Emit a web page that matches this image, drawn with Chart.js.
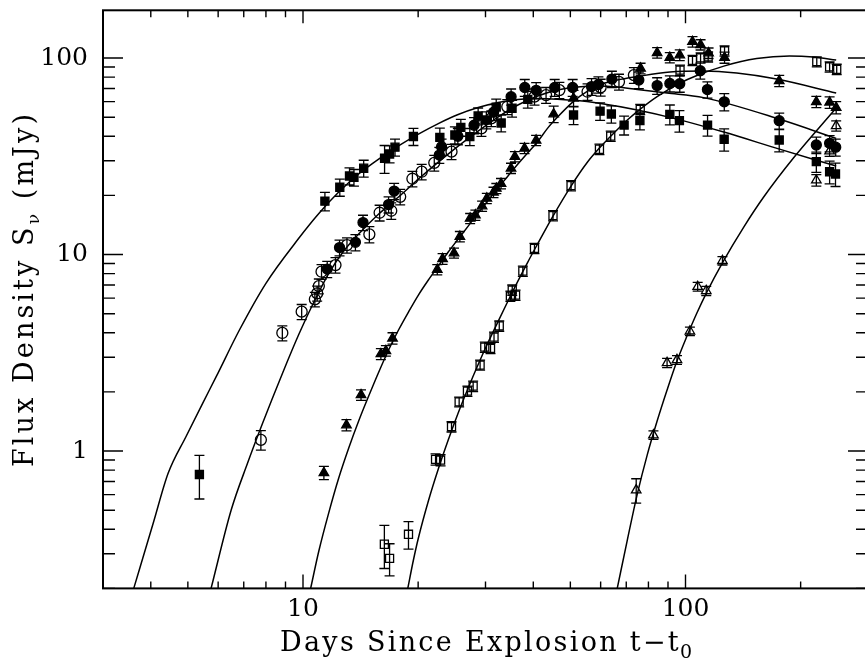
<!DOCTYPE html>
<html>
<head>
<meta charset="utf-8">
<script src="https://cdn.jsdelivr.net/npm/chart.js@4"></script>
<style>
html,body{margin:0;padding:0;background:#fff;overflow:hidden}
#wrap{width:875px;height:662px;background:#fff}
</style>
</head>
<body>
<div id="wrap"><canvas id="c" width="875" height="662"></canvas></div>
<script>
// ---------- data (days since explosion, flux density mJy, 1-sigma error mJy) ----------
const sqDays = [5.36, 11.41, 12.48, 13.23, 13.59, 14.41, 16.34, 16.84, 17.4, 19.44, 22.79, 24.95, 25.86, 27.3, 28.7, 30.15, 32.0, 32.97, 35.2, 38.7, 50.97, 59.8, 64.0, 69.1, 76.0, 91.0, 96.4, 114.2, 126.2, 175.8, 219.8, 238.1, 246.7];
const sqFlux = [0.76, 18.7, 22.0, 25.1, 24.7, 27.5, 30.9, 32.5, 35.2, 39.9, 39.5, 40.6, 44.4, 39.8, 50.7, 48.4, 56.3, 46.7, 55.5, 61.6, 51.3, 53.7, 51.9, 45.6, 48.1, 51.7, 48.0, 45.6, 38.6, 38.3, 29.7, 26.4, 25.7];
const sqErr  = [0.19, 2.0, 2.2, 2.5, 2.4, 2.7, 5.0, 3.2, 3.5, 4.0, 4.5, 4.0, 4.4, 4.0, 5.0, 4.8, 5.5, 4.6, 5.5, 6.0, 5.5, 5.5, 5.2, 5.0, 5.0, 6.0, 6.0, 5.5, 5.0, 5.0, 3.5, 3.5, 3.5];

const fcDays = [11.57, 12.46, 13.71, 14.35, 16.74, 17.31, 22.72, 23.03, 25.4, 28.0, 31.5, 35.0, 38.0, 40.7, 45.5, 50.7, 56.8, 59.2, 64.2, 75.5, 84.3, 91.0, 96.6, 109.3, 114.1, 126.3, 175.8, 219.8, 238.1, 247.0];
const fcFlux = [8.44, 10.85, 11.54, 14.55, 17.97, 21.05, 32.1, 35.4, 40.0, 45.5, 53.0, 63.6, 70.8, 68.5, 70.8, 70.8, 71.6, 73.3, 78.2, 77.3, 72.4, 74.2, 74.0, 86.2, 69.1, 59.9, 48.0, 36.1, 36.8, 35.2];
const fcErr  = [0.8, 1.0, 1.1, 1.3, 1.7, 2.0, 3.0, 3.3, 3.8, 4.3, 5.0, 6.0, 7.0, 6.5, 7.0, 7.0, 7.0, 7.0, 7.5, 7.5, 7.0, 7.0, 7.0, 8.0, 6.5, 6.0, 4.5, 3.5, 3.5, 3.5];

const ocDays = [7.76, 8.83, 9.92, 10.74, 10.89, 11.0, 11.18, 12.16, 13.03, 14.91, 15.86, 17.01, 17.95, 19.32, 20.43, 22.04, 24.45, 29.27, 31.07, 34.2, 40.3, 43.2, 46.8, 55.45, 60.0, 67.0, 73.3];
const ocFlux = [1.14, 3.99, 5.12, 5.92, 6.35, 6.91, 8.18, 8.84, 11.17, 12.67, 16.32, 16.71, 19.68, 24.31, 26.4, 29.3, 33.4, 43.9, 49.3, 56.5, 63.6, 64.8, 68.7, 67.4, 71.0, 75.7, 81.9];
const ocErr  = [0.13, 0.35, 0.45, 0.5, 0.55, 0.6, 0.7, 0.8, 1.0, 1.2, 1.5, 1.6, 1.8, 2.2, 2.4, 2.7, 3.0, 4.0, 4.5, 5.0, 6.0, 6.0, 6.5, 6.5, 7.0, 7.0, 7.5];

const ftDays = [11.34, 12.99, 14.18, 15.98, 16.47, 17.14, 22.44, 23.17, 24.82, 25.71, 27.35, 28.23, 29.39, 30.24, 31.48, 32.02, 32.94, 34.98, 35.81, 37.95, 40.68, 45.22, 50.97, 76.3, 84.3, 90.98, 96.6, 104.3, 109.5, 114.9, 126.5, 175.8, 219.8, 238.1, 247.7];
const ftFlux = [0.775, 1.356, 1.93, 3.12, 3.24, 3.75, 8.39, 9.51, 10.18, 12.35, 15.28, 15.89, 17.65, 19.32, 20.75, 21.7, 22.98, 27.5, 31.5, 34.7, 38.1, 51.9, 62.4, 88.6, 106.4, 100.6, 103.6, 121.1, 116.9, 106.0, 100.6, 76.6, 59.9, 59.5, 56.0];
const ftErr  = [0.06, 0.09, 0.12, 0.2, 0.2, 0.25, 0.5, 0.6, 0.6, 0.75, 0.9, 0.95, 1.05, 1.15, 1.25, 1.3, 1.4, 1.65, 1.9, 2.1, 2.3, 5.0, 6.0, 5.5, 6.5, 6.0, 6.5, 7.5, 7.0, 6.5, 6.5, 5.0, 4.0, 4.0, 4.0];

const osDays = [16.32, 16.84, 18.87, 22.21, 22.89, 24.45, 25.60, 26.91, 27.85, 29.04, 29.87, 30.92, 31.58, 32.59, 34.85, 35.24, 35.95, 37.56, 40.29, 45.04, 50.21, 59.57, 63.75, 76.15, 96.76, 104.3, 109.5, 114.6, 126.5, 220.4, 238.1, 248.5];
const osFlux = [0.3355, 0.2844, 0.3772, 0.9074, 0.90, 1.33, 1.78, 2.02, 2.14, 2.74, 3.38, 3.33, 3.80, 4.33, 6.15, 6.60, 6.22, 8.24, 10.76, 15.79, 22.44, 34.35, 40.09, 54.8, 86.9, 97.3, 100.3, 101.5, 108.9, 95.8, 90.3, 87.7];
const osErr  = [0.083, 0.053, 0.06, 0.06, 0.06, 0.08, 0.1, 0.12, 0.13, 0.16, 0.2, 0.2, 0.23, 0.26, 0.37, 0.4, 0.37, 0.5, 0.65, 0.95, 1.35, 2.1, 2.4, 3.3, 5.2, 5.8, 6.0, 6.0, 6.5, 5.7, 5.4, 5.3];

const otDays = [74.32, 82.45, 89.5, 95.0, 102.7, 107.6, 113.3, 124.9, 219.8, 238.1, 247.7];
const otFlux = [0.633, 1.206, 2.81, 2.91, 4.07, 6.86, 6.54, 9.30, 23.9, 33.6, 45.2];
const otErr  = [0.09, 0.06, 0.15, 0.15, 0.2, 0.35, 0.35, 0.45, 1.6, 2.0, 2.7];

// model curves
const c1Days = [3.61, 4.06, 4.44, 4.95, 5.47, 5.93, 6.82, 8.0, 9.76, 11.0, 12.4, 13.98, 15.77, 17.77, 20.03, 22.58, 25.45, 28.7, 32.35, 36.46, 41.1, 46.3, 52.2, 58.9, 74.8, 95.0, 125.9, 176.1, 247.7];
const c1Flux = [0.2, 0.430, 0.77, 1.19, 1.755, 2.39, 4.13, 7.14, 12.13, 16.17, 20.8, 25.7, 30.6, 35.7, 41.0, 46.4, 51.6, 56.0, 59.4, 61.5, 62.2, 61.8, 60.8, 59.0, 54.4, 48.9, 42.0, 34.4, 28.2];
const c2Days = [5.75, 6.49, 7.16, 7.84, 8.84, 9.76, 10.74, 11.69, 12.78, 13.98, 15.77, 17.77, 20.03, 22.58, 25.45, 28.7, 32.35, 36.46, 41.1, 46.3, 52.2, 58.9, 66.3, 74.8, 89.5, 111.5, 176.4, 247.7];
const c2Flux = [0.2, 0.501, 0.866, 1.384, 2.49, 3.94, 5.87, 8.05, 10.42, 12.72, 16.07, 19.62, 24.23, 29.56, 35.66, 42.5, 50.1, 57.7, 64.1, 68.7, 71.2, 72.0, 71.2, 69.1, 66.4, 62.9, 48.8, 39.0];
const c3Days = [10.47, 11.0, 11.69, 12.4, 13.17, 13.98, 14.85, 15.77, 16.74, 17.77, 18.87, 20.03, 21.27, 22.58, 23.97, 25.45, 27.03, 28.7, 30.46, 32.35, 34.35, 36.46, 38.7, 41.1, 43.62, 46.3, 50.7, 55.45, 60.6, 66.3, 74.8, 91.1, 111.5, 136.1, 173, 247.7];
const c3Flux = [0.2, 0.310, 0.489, 0.729, 1.036, 1.421, 1.905, 2.52, 3.27, 4.13, 5.10, 6.22, 7.42, 8.74, 10.30, 11.99, 13.96, 16.26, 18.83, 21.8, 25.1, 28.9, 33.0, 37.6, 44.0, 50.1, 59.7, 67.9, 73.8, 77.3, 80.5, 84.9, 85.9, 83.9, 78.2, 66.4];
const c4Days = [18.79, 19.44, 20.03, 21.27, 22.58, 23.97, 25.45, 27.03, 28.7, 30.46, 32.35, 34.35, 36.46, 38.7, 41.1, 44.96, 50.21, 55.45, 59.57, 63.65, 70.45, 76.15, 84.3, 96.76, 107.1, 125.9, 153.5, 187.0, 215.9, 247.7];
const c4Flux = [0.2, 0.279, 0.361, 0.557, 0.810, 1.137, 1.561, 2.092, 2.755, 3.566, 4.56, 5.80, 7.33, 9.16, 11.37, 15.61, 22.32, 29.56, 34.83, 39.86, 48.36, 55.0, 63.7, 74.6, 81.5, 91.0, 99.4, 102.4, 101.2, 97.7];
const c5Days = [66.3, 70.45, 74.8, 79.4, 84.3, 89.5, 95.0, 100.9, 107.1, 113.7, 125.2, 142.0, 160.1, 191.5, 247.7];
const c5Flux = [0.2, 0.3524, 0.604, 0.954, 1.421, 2.044, 2.871, 3.848, 5.04, 6.445, 9.16, 13.8, 19.62, 30.98, 55.7];

// axes
const xMin = 3, xMax = 300, yMin = 0.2, yMax = 175;
const xTickLabels = [10, 100];
const yTickLabels = [1, 10, 100];
const xTitleMain = 'Days Since Explosion t\u2212t', xTitleSub = '0';
const yTitleMain = 'Flux Density S', yTitleSub = '\u03BD', yTitleTail = ' (mJy)';

const FONT = '"DejaVu Serif", "Liberation Serif", serif';

function pts(d, f) { return d.map((v, i) => ({x: v, y: f[i]})); }

function curve(d, f) {
  return {data: pts(d, f), showLine: true, pointRadius: 0, borderColor: '#000', borderWidth: 1.5,
          cubicInterpolationMode: 'monotone', fill: false, order: 2};
}
function marks(d, f, e, style, filled, r) {
  return {data: pts(d, f), errors: e, showLine: false, pointStyle: style, pointRadius: r,
          pointBackgroundColor: filled ? '#000' : 'rgba(0,0,0,0)', pointBorderColor: '#000',
          pointBorderWidth: 1.3, order: 1};
}

const errorBars = {
  id: 'errorBars',
  afterDatasetsDraw(chart) {
    const {ctx, scales: {x, y}} = chart;
    ctx.save();
    ctx.strokeStyle = '#000';
    ctx.lineWidth = 1.3;
    ctx.beginPath();
    chart.data.datasets.forEach(ds => {
      if (!ds.errors) return;
      ds.data.forEach((p, i) => {
        const e = ds.errors[i];
        const px = x.getPixelForValue(p.x);
        const y1 = y.getPixelForValue(p.y + e);
        const y2 = y.getPixelForValue(Math.max(p.y - e, yMin * 0.5));
        ctx.moveTo(px, y1); ctx.lineTo(px, y2);
        ctx.moveTo(px - 5, y1); ctx.lineTo(px + 5, y1);
        ctx.moveTo(px - 5, y2); ctx.lineTo(px + 5, y2);
      });
    });
    ctx.stroke();
    ctx.restore();
  }
};

function isDecade(v) { const l = Math.log10(v); return Math.abs(l - Math.round(l)) < 1e-6; }
function isLogTick(v) {
  const m = v / Math.pow(10, Math.floor(Math.log10(v) + 1e-9));
  return Math.abs(m - Math.round(m)) < 1e-6;
}

const frame = {
  id: 'frame',
  afterDraw(chart) {
    const {ctx, chartArea: a, scales: {x, y}} = chart;
    ctx.save();
    ctx.strokeStyle = '#000';
    ctx.lineWidth = 1.4;
    ctx.beginPath();
    x.ticks.forEach(t => {
      const v = t.value;
      if (!isLogTick(v)) return;
      const px = x.getPixelForValue(v);
      const maj = isDecade(v);
      ctx.moveTo(px, a.bottom); ctx.lineTo(px, a.bottom - (maj ? 14 : 7));
      ctx.moveTo(px, a.top); ctx.lineTo(px, a.top + (maj ? 13 : 7));
    });
    y.ticks.forEach(t => {
      const v = t.value;
      if (!isLogTick(v)) return;
      const py = y.getPixelForValue(v);
      const maj = isDecade(v);
      ctx.moveTo(a.left, py); ctx.lineTo(a.left + (maj ? 20 : 12), py);
      ctx.moveTo(a.right, py); ctx.lineTo(a.right - (maj ? 20 : 12), py);
    });
    ctx.stroke();
    ctx.lineWidth = 2;
    ctx.strokeRect(a.left, a.top, a.right - a.left, a.bottom - a.top);
    ctx.restore();
  }
};

const titles = {
  id: 'titles',
  afterDraw(chart) {
    const ctx = chart.ctx;
    ctx.save();
    ctx.fillStyle = '#000';
    ctx.textAlign = 'left';
    ctx.textBaseline = 'alphabetic';
    ctx.letterSpacing = '2.3px';
    ctx.font = '27px ' + FONT;
    const w = ctx.measureText(xTitleMain).width;
    ctx.fillText(xTitleMain, 280, 651);
    ctx.font = '19px ' + FONT;
    ctx.fillText(xTitleSub, 280 + w - 1, 658);

    ctx.translate(33, 467);
    ctx.rotate(-Math.PI / 2);
    ctx.letterSpacing = '3.1px';
    ctx.font = '27px ' + FONT;
    ctx.fillText(yTitleMain, 0, 0);
    const w1 = ctx.measureText(yTitleMain).width;
    ctx.font = '17px ' + FONT;
    ctx.fillText(yTitleSub, w1, 6);
    const w2 = ctx.measureText(yTitleSub).width;
    ctx.font = '27px ' + FONT;
    ctx.fillText(yTitleTail, w1 + w2, 0);
    ctx.restore();
  }
};

function noPad(s) { s.paddingTop = 0; s.paddingBottom = 0; s.paddingLeft = 0; s.paddingRight = 0; }

new Chart(document.getElementById('c'), {
  type: 'scatter',
  data: {
    datasets: [
      marks(sqDays, sqFlux, sqErr, 'rect', true, 5.7),
      marks(fcDays, fcFlux, fcErr, 'circle', true, 5),
      marks(ocDays, ocFlux, ocErr, 'circle', false, 5.5),
      marks(ftDays, ftFlux, ftErr, 'triangle', true, 5.5),
      marks(osDays, osFlux, osErr, 'rect', false, 5.7),
      marks(otDays, otFlux, otErr, 'triangle', false, 5.5),
      curve(c1Days, c1Flux),
      curve(c2Days, c2Flux),
      curve(c3Days, c3Flux),
      curve(c4Days, c4Flux),
      curve(c5Days, c5Flux)
    ]
  },
  options: {
    responsive: false,
    animation: false,
    events: [],
    layout: {padding: {top: 10.3, right: 3, left: 0, bottom: 0}},
    plugins: {legend: {display: false}, tooltip: {enabled: false}},
    scales: {
      x: {
        type: 'logarithmic', min: xMin, max: xMax, position: 'bottom',
        grid: {display: false, drawTicks: false}, border: {display: false},
        ticks: {autoSkip: false, maxRotation: 0, minRotation: 0, padding: 6, color: '#000',
                font: {family: FONT, size: 25},
                callback: v => xTickLabels.includes(v) ? String(v) : ''},
        afterFit: s => { s.height = 73.6; noPad(s); }
      },
      y: {
        type: 'logarithmic', min: yMin, max: yMax, position: 'left',
        grid: {display: false, drawTicks: false}, border: {display: false},
        ticks: {autoSkip: false, padding: 15, color: '#000',
                font: {family: FONT, size: 25},
                callback: v => yTickLabels.includes(v) ? String(v) : ''},
        afterFit: s => { s.width = 103; noPad(s); }
      }
    }
  },
  plugins: [errorBars, frame, titles]
});
</script>
</body>
</html>
